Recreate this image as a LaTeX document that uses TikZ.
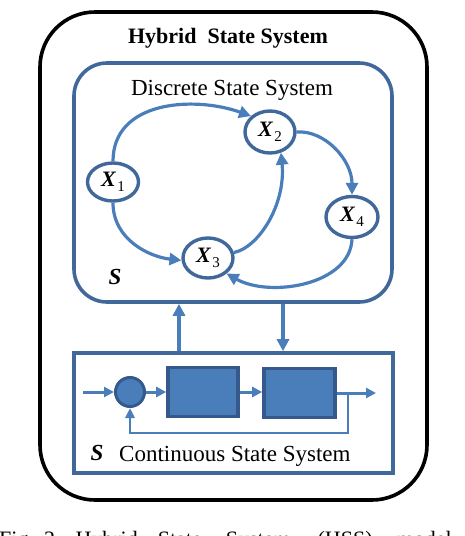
\documentclass[tikz,border=0pt]{standalone}
\usepackage{fontspec}
\setmainfont{Liberation Serif}
\usetikzlibrary{arrows.meta,shapes.geometric,calc}
\definecolor{lineblue}{HTML}{4A7EBB}
\definecolor{edgeblue}{HTML}{41689A}
\definecolor{darkblue}{HTML}{34598A}
\newcommand\xlab[1]{{\fontsize{22}{22}\selectfont\bfseries\itshape X}\kern1.5pt\raisebox{-5pt}{\fontsize{15}{15}\selectfont #1}}
\tikzset{
  state/.style={ellipse, draw=edgeblue, line width=3.4pt, fill=white,
    minimum width=50pt, minimum height=40pt, inner sep=0pt},
  flow/.style={draw=lineblue, line width=3.2pt, -{Triangle[length=12pt,width=12pt]}},
  sysbox/.style={draw=edgeblue, line width=3.6pt, inner sep=0pt},
  block/.style={draw=darkblue, fill=lineblue, line width=3.6pt, inner sep=0pt},
  sig/.style={draw=lineblue, line width=3pt, -{Triangle[length=10pt,width=10pt]}},
  fb/.style={draw=lineblue, line width=2.6pt, -{Triangle[length=10pt,width=9pt]}},
  txt/.style={inner sep=0pt, font=\fontsize{23}{23}\selectfont},
}
\begin{document}
\begin{tikzpicture}[x=1pt,y=-1pt]
\useasboundingbox (0,0) rectangle (464,536);
% outer hybrid box
\node[draw=black, line width=3.6pt, rounded corners=55pt, minimum width=387pt,
  minimum height=488pt, inner sep=0pt] (outer) at (233.5,256) {};
\node[txt, anchor=base, font=\fontsize{22}{22}\selectfont\bfseries] (title) at (228,43)
  {Hybrid\hspace{0.5em}State System};
% discrete box
\node[sysbox, rounded corners=33pt, minimum width=318pt, minimum height=239pt] (disc) at (233,182.5) {};
\node[txt, anchor=base] (dtitle) at (232,95) {Discrete State System};
% states
\node[state, minimum width=51pt, minimum height=38pt] (X1) at (113,182) {\xlab{1}};
\node[state, minimum height=42pt] (X2) at (270,132) {\xlab{2}};
\node[state] (X3) at (208,258) {\xlab{3}};
\node[state, minimum width=52pt, minimum height=41pt] (X4) at (352,217) {\xlab{4}};
\node[txt, font=\fontsize{23}{23}\selectfont\bfseries\itshape] (S1) at (115,277) {S};
% transitions
\draw[flow] (X1.north) .. controls (113,100) and (195,96) .. (X2.140);
\draw[flow] (X1.south) .. controls (113,240) and (150,257) .. (X3.185);
\draw[flow] (X3.12) .. controls (258,248) and (286,205) .. (X2.-62);
\draw[flow] (X2.east) .. controls (325,130) and (352,160) .. (X4.north);
\draw[flow] (X4.south) .. controls (350,285) and (270,298) .. (X3.-40);
% continuous box
\node[sysbox, minimum width=319pt, minimum height=120pt] (cont) at (233.5,413) {};
\coordinate (upx) at (179,0);
\coordinate (downx) at (283,0);
\draw[flow] (cont.north -| upx) -- (disc.south -| upx);
\draw[flow] (disc.south -| downx) -- (cont.north -| downx);
% block diagram
\coordinate (in) at (83,392);
\node[circle, draw=darkblue, fill=lineblue, line width=3pt, minimum size=29pt, inner sep=0pt] (sum) at (130,392) {};
\node[block, minimum width=70pt, minimum height=49pt] (b1) at (203,392) {};
\node[block, minimum width=71pt, minimum height=49pt] (b2) at (299.5,393) {};
\coordinate (out) at (376,393);
\coordinate (tap) at (348,393);
\draw[sig] (in) -- (sum.west);
\draw[sig] (sum.east) -- (b1.west);
\draw[sig] (b1.east) -- (b1.east -| b2.west);
\draw[sig] (b2.east) -- (out);
\draw[fb] (tap) -- (tap |- 0,433) -| (sum.south);
\node[txt, font=\fontsize{23}{23}\selectfont\bfseries\itshape] (S2) at (97,453) {S};
\node[txt, anchor=base west] (ctitle) at (119,461) {Continuous State System};
% caption (cut off by the page edge, as in the reference)
\node[inner sep=0pt, anchor=base west, font=\fontsize{22}{22}\selectfont] (cap) at (-1,546)
  {Fig.\hspace{10pt}2.\hspace{15pt}Hybrid\hspace{20pt}State\hspace{24pt}System\hspace{27pt}(HSS)\hspace{24pt}model};
\end{tikzpicture}
\end{document}
